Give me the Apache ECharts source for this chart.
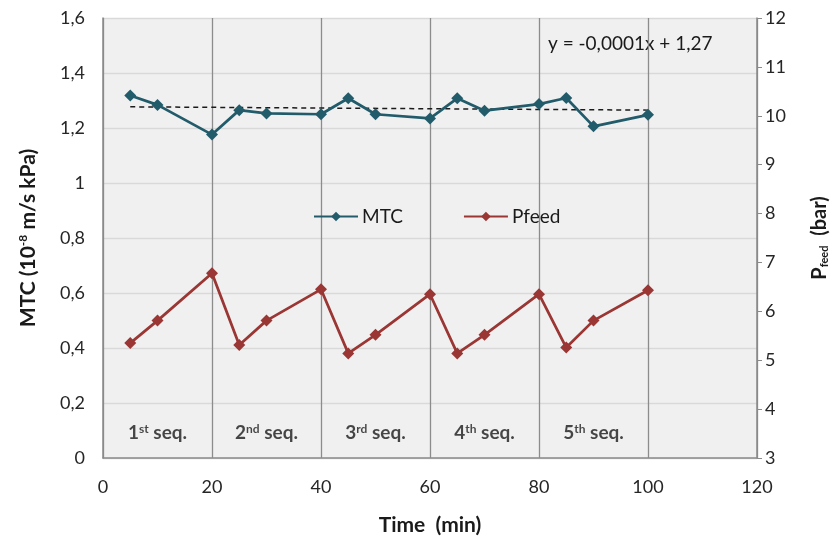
<!DOCTYPE html>
<html>
<head>
<meta charset="utf-8">
<title>MTC and Pfeed vs time</title>
<script src="https://cdn.jsdelivr.net/npm/echarts@6/dist/echarts.min.js"></script>
<style>
  html, body { margin: 0; padding: 0; background: #fff; }
  #mychart { width: 830px; height: 540px; }
</style>
</head>
<body>
<div id="mychart"></div>
<script>
// data
var timeMin = [5, 10, 20, 25, 30, 40, 45, 50, 60, 65, 70, 80, 85, 90, 100];
var mtc = [1.318, 1.284, 1.176, 1.265, 1.253, 1.25, 1.308, 1.25, 1.235, 1.308, 1.263, 1.287, 1.309, 1.206, 1.248];
var pfeed = [5.35, 5.81, 6.78, 5.31, 5.81, 6.45, 5.14, 5.52, 6.35, 5.14, 5.52, 6.35, 5.26, 5.81, 6.43];
var trendX = [5, 100];
var trendY = [1.277, 1.265];
var seqX = [10, 30, 50, 70, 90];
var seqNum = ['1', '2', '3', '4', '5'];
var seqSup = ['st', 'nd', 'rd', 'th', 'th'];
var equationText = 'y = -0,0001x + 1,27';

var font = 'Lato, "Open Sans", sans-serif';
var teal = '#225c6b';
var red = '#9a3634';

function pairs(xs, ys) {
    var out = [];
    for (var i = 0; i < xs.length; i++) out.push([xs[i], ys[i]]);
    return out;
}

var seqData = [];
for (var i = 0; i < seqX.length; i++) {
    seqData.push({value: [seqX[i], 0.09], num: seqNum[i], sup: seqSup[i]});
}

var chart = echarts.init(document.getElementById('mychart'));

var option = {
    animation: false,
    textStyle: {fontFamily: font},
    grid: {
        left: 103,
        right: 73,
        top: 18,
        bottom: 82,
        outerBoundsMode: 'none',
        containLabel: false,
        show: true,
        backgroundColor: '#f0f0f0',
        borderWidth: 0
    },
    legend: {
        left: 308,
        top: 202,
        itemWidth: 44,
        itemHeight: 12,
        itemGap: 60,
        textStyle: {fontFamily: font, fontSize: 19, color: '#1a1a1a', padding: [0, 0, 0, -1]},
        data: ['MTC', 'Pfeed']
    },
    graphic: [{
        type: 'text',
        left: 548,
        top: 34,
        style: {text: equationText, font: '19px ' + font, fill: '#1a1a1a'}
    }],
    xAxis: {
        type: 'value',
        min: 0,
        max: 120,
        interval: 20,
        name: 'Time  (min)',
        nameLocation: 'middle',
        nameGap: 57,
        nameTextStyle: {fontSize: 21, fontWeight: 'bold', color: '#1a1a1a', fontFamily: font},
        axisLine: {lineStyle: {color: '#8a8a8a', width: 1.5}},
        axisTick: {show: false},
        axisLabel: {fontSize: 18, color: '#262626', margin: 20, fontFamily: font},
        splitLine: {show: true, lineStyle: {color: '#8c8c8c', width: 1.3}}
    },
    yAxis: [{
        type: 'value',
        min: 0,
        max: 1.6,
        interval: 0.2,
        name: 'MTC (10{sup|-8} m/s kPa)',
        nameLocation: 'middle',
        nameRotate: 90,
        nameGap: 64,
        nameTextStyle: {
            fontSize: 21, fontWeight: 'bold', color: '#1a1a1a', fontFamily: font,
            rich: {sup: {fontSize: 12, fontWeight: 'bold', padding: [0, 0, 10, 0]}}
        },
        axisLine: {show: true, lineStyle: {color: '#8a8a8a', width: 1.5}},
        axisTick: {show: false},
        axisLabel: {
            fontSize: 18, color: '#262626', margin: 18, fontFamily: font,
            formatter: function (v) { return String(Math.round(v * 10) / 10).replace('.', ','); }
        },
        splitLine: {show: true, lineStyle: {color: '#d9d9d9', width: 1.3}}
    }, {
        type: 'value',
        min: 3,
        max: 12,
        interval: 1,
        position: 'right',
        name: 'P{sub|feed}  (bar)',
        nameLocation: 'middle',
        nameRotate: 90,
        nameGap: 52,
        nameTextStyle: {
            fontSize: 20, fontWeight: 'bold', color: '#1a1a1a', fontFamily: font,
            rich: {sub: {fontSize: 11, fontWeight: 'bold', padding: [10, 0, 0, 0]}}
        },
        axisLine: {show: true, lineStyle: {color: '#8a8a8a', width: 1.5}},
        axisTick: {show: true, length: 5, lineStyle: {color: '#8a8a8a'}},
        axisLabel: {fontSize: 18, color: '#262626', margin: 8, fontFamily: font},
        splitLine: {show: false}
    }],
    series: [{
        name: 'MTC',
        type: 'line',
        yAxisIndex: 0,
        data: pairs(timeMin, mtc),
        symbol: 'diamond',
        symbolSize: 12,
        itemStyle: {color: teal},
        lineStyle: {color: teal, width: 2.75},
        z: 4
    }, {
        name: 'Pfeed',
        type: 'line',
        yAxisIndex: 1,
        data: pairs(timeMin, pfeed),
        symbol: 'diamond',
        symbolSize: 12,
        itemStyle: {color: red},
        lineStyle: {color: red, width: 2.75},
        z: 4
    }, {
        name: 'trend',
        type: 'line',
        yAxisIndex: 0,
        data: pairs(trendX, trendY),
        symbol: 'none',
        lineStyle: {color: '#1a1a1a', width: 1.5, type: [5, 4]},
        z: 3
    }, {
        name: 'seq',
        type: 'scatter',
        yAxisIndex: 0,
        data: seqData,
        symbolSize: 0,
        silent: true,
        label: {
            show: true,
            position: 'inside',
            formatter: function (p) {
                return '{b|' + p.data.num + '}{s|' + p.data.sup + '}{b| seq.}';
            },
            rich: {
                b: {fontSize: 19, fontWeight: 'bold', color: '#1a1a1a', fontFamily: font},
                s: {fontSize: 12, fontWeight: 'bold', color: '#1a1a1a', fontFamily: font, padding: [0, 0, 9, 0]}
            }
        }
    }]
};

chart.setOption(option);
</script>
</body>
</html>
